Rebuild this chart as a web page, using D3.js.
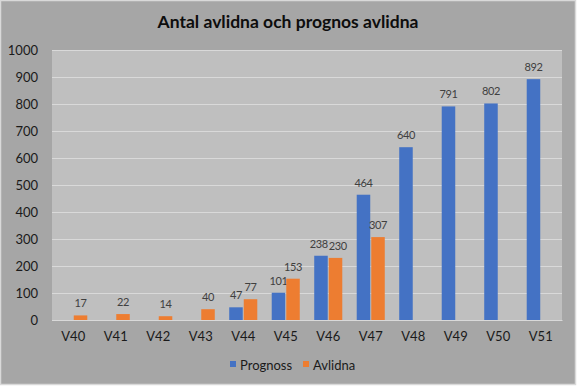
<!DOCTYPE html>
<html><head><meta charset="utf-8">
<script src="https://cdn.jsdelivr.net/npm/d3@7"></script>
<style>body{margin:0;background:#fff}svg{display:block}</style>
</head><body>
<script>
const categories = ["V40","V41","V42","V43","V44","V45","V46","V47","V48","V49","V50","V51"];
const prognoss = [null,null,null,null,47,101,238,464,640,791,802,892];
const avlidna = [17,22,14,40,77,153,230,307,null,null,null,null];
const seriesNames = ["Prognoss","Avlidna"];
const yTicks = [0,100,200,300,400,500,600,700,800,900,1000];
const colors = ["#4472C4","#ED7D31"];

const W = 577, H = 386;
const m = {left:52, right:15, top:50, bottom:66};
const svg = d3.select("body").append("svg").attr("width",W).attr("height",H);
svg.append("rect").attr("x",0.5).attr("y",0.5).attr("width",575).attr("height",384)
  .attr("fill","#a6a6a6").attr("stroke","#d9d9d9").attr("stroke-width",1.5);

const x = d3.scaleBand().domain(categories).range([m.left, W-m.right]).paddingInner(0.34).paddingOuter(0.17);
const xs = d3.scaleBand().domain(seriesNames).range([0, x.bandwidth()]).paddingInner(0.07);
const y = d3.scaleLinear().domain([0,1000]).range([H-m.bottom, m.top]);

svg.append("rect").attr("x",m.left).attr("y",m.top).attr("width",W-m.right-m.left).attr("height",H-m.bottom-m.top).attr("fill","#bfbfbf");

const font = "Lato, 'Open Sans', sans-serif";
// grid
const gy = svg.append("g").attr("transform",`translate(${m.left},0)`)
  .call(d3.axisLeft(y).tickValues(yTicks).tickFormat(d3.format("d")).tickSize(-(W-m.right-m.left)).tickPadding(14));
gy.select(".domain").remove();
gy.selectAll(".tick line").attr("stroke","#d9d9d9").attr("stroke-width",1);
gy.selectAll(".tick text").attr("fill","#1a1a1a").style("font-family",font).style("font-size","13px");

const gx = svg.append("g").attr("transform",`translate(0,${H-m.bottom})`)
  .call(d3.axisBottom(x).tickSize(0).tickPadding(12));
gx.select(".domain").attr("stroke","#d9d9d9");
gx.selectAll(".tick text").attr("fill","#1a1a1a").style("font-family",font).style("font-size","13px");

const data = [prognoss, avlidna];
const labelSel = [];
data.forEach((vals, si) => {
  const g = svg.append("g");
  const pts = categories.map((c,i)=>({c, v: vals[i]})).filter(d=>d.v!=null);
  g.selectAll("rect").data(pts).join("rect")
    .attr("x", d=>x(d.c)+xs(seriesNames[si]))
    .attr("width", xs.bandwidth())
    .attr("y", d=>y(d.v))
    .attr("height", d=>y(0)-y(d.v))
    .attr("fill", colors[si]);
  labelSel[si] = g.selectAll("text").data(pts).join("text")
    .attr("x", d=>x(d.c)+xs(seriesNames[si])+xs.bandwidth()/2)
    .attr("y", d=>y(d.v)-8)
    .attr("text-anchor","middle")
    .attr("fill","#404040")
    .style("font-family",font).style("font-size","11px").style("letter-spacing","-0.4px")
    .text(d=>d.v);
});
// nudge overlapping label pairs apart (like Excel does)
const lab0 = {}; labelSel[0].each(function(d){ lab0[d.c] = this; });
labelSel[1].each(function(d){
  const a = lab0[d.c]; if (!a) return;
  const ba = a.getBBox(), bb = this.getBBox();
  const vOverlap = ba.y < bb.y + bb.height && bb.y < ba.y + ba.height;
  const over = ba.x + ba.width + 1 - bb.x;
  if (vOverlap && over > 0) {
    a.setAttribute("x", +a.getAttribute("x") - over/2);
    this.setAttribute("x", +this.getAttribute("x") + over/2);
  }
});

svg.append("text").attr("x",288).attr("y",28).attr("text-anchor","middle")
  .style("font-family",font).style("font-weight","bold").style("font-size","17.5px").attr("fill","#0d0d0d")
  .text("Antal avlidna och prognos avlidna");

// legend
const leg = svg.append("g").attr("transform","translate(230,366)");
const legX = [0, 73];
seriesNames.forEach((n,i)=>{
  leg.append("rect").attr("x",legX[i]).attr("y",-5).attr("width",6).attr("height",6).attr("fill",colors[i]);
  leg.append("text").attr("x",legX[i]+10).attr("y",4).attr("fill","#1a1a1a")
    .style("font-family",font).style("font-size","13px").text(n);
});
</script>
</body></html>
